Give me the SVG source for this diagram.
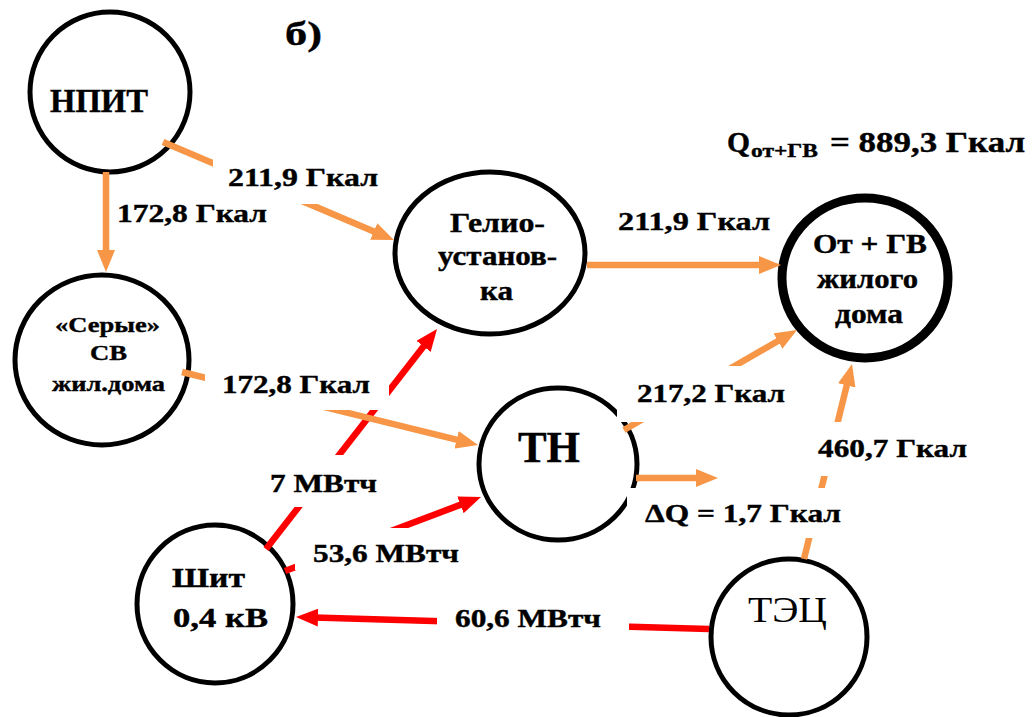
<svg xmlns="http://www.w3.org/2000/svg" width="1032" height="717" viewBox="0 0 1032 717">
<style>
.node{fill:#fff;stroke:#000;stroke-width:5}
.thick{stroke-width:9}
.t{font-family:"Liberation Serif","Times New Roman",serif;font-weight:bold;fill:#000;stroke:#000;stroke-width:0.4px}
.lbl{font-family:"Liberation Serif","Times New Roman",serif;font-weight:bold;font-size:26px;fill:#000;stroke:#000;stroke-width:0.4px}
.reg{font-family:"Liberation Serif","Times New Roman",serif;font-weight:normal;fill:#000}
.or{stroke:#F79646;stroke-width:6.5;fill:none}
.rd{stroke:#FF0000;stroke-width:6.5;fill:none}
.box{fill:#fff;stroke:none}
</style>
<defs>
<marker id="ao" markerUnits="userSpaceOnUse" viewBox="0 0 22 18" markerWidth="22" markerHeight="18" refX="4" refY="9" orient="auto"><path d="M0,0 L22,9 L0,18 z" fill="#F79646"/></marker>
<marker id="ar" markerUnits="userSpaceOnUse" viewBox="0 0 22 18" markerWidth="22" markerHeight="18" refX="4" refY="9" orient="auto"><path d="M0,0 L22,9 L0,18 z" fill="#FF0000"/></marker>
</defs>
<rect width="1032" height="717" fill="#fff"/>
<text class="t" x="285" y="45" font-size="34" textLength="37" lengthAdjust="spacingAndGlyphs">б)</text>
<g id="q-total">
<text class="t" x="727" y="152" font-size="29" textLength="23" lengthAdjust="spacingAndGlyphs">Q</text>
<text class="t" x="751" y="157" font-size="19" textLength="67" lengthAdjust="spacingAndGlyphs">от+ГВ</text>
<text class="t" x="830" y="152" font-size="29" textLength="195" lengthAdjust="spacingAndGlyphs">= 889,3 Гкал</text>
</g>
<g id="npit"><ellipse class="node" cx="110" cy="92" rx="80" ry="80"/><text class="t" x="50" y="112" font-size="34" textLength="98" lengthAdjust="spacingAndGlyphs">НПИТ</text></g>
<g id="serye"><ellipse class="node" cx="102" cy="360" rx="87" ry="85"/>
<text class="t" x="55" y="332" font-size="22" textLength="105" lengthAdjust="spacingAndGlyphs">«Серые»</text>
<text class="t" x="90" y="360" font-size="22" textLength="37" lengthAdjust="spacingAndGlyphs">СВ</text>
<text class="t" x="52" y="391" font-size="22" textLength="113" lengthAdjust="spacingAndGlyphs">жил.дома</text></g>
<g id="gelio"><ellipse class="node" cx="490" cy="253" rx="95" ry="81"/>
<text class="t" x="450" y="232" font-size="27" textLength="95" lengthAdjust="spacingAndGlyphs">Гелио-</text>
<text class="t" x="438" y="265" font-size="27" textLength="119" lengthAdjust="spacingAndGlyphs">установ-</text>
<text class="t" x="480" y="300" font-size="27" textLength="33" lengthAdjust="spacingAndGlyphs">ка</text></g>
<g id="ot-gv"><ellipse class="node thick" cx="865" cy="278" rx="83" ry="80"/>
<text class="t" x="813" y="253" font-size="27" textLength="114" lengthAdjust="spacingAndGlyphs">От + ГВ</text>
<text class="t" x="817" y="288" font-size="27" textLength="101" lengthAdjust="spacingAndGlyphs">жилого</text>
<text class="t" x="835" y="323" font-size="27" textLength="68" lengthAdjust="spacingAndGlyphs">дома</text></g>
<g id="tn"><ellipse class="node" cx="558" cy="464" rx="79" ry="76"/>
<text class="t" x="518" y="462" font-size="44" textLength="62" lengthAdjust="spacingAndGlyphs">ТН</text></g>
<g id="shit"><ellipse class="node" cx="215" cy="604" rx="78" ry="79"/>
<text class="t" x="172" y="587" font-size="28" textLength="73" lengthAdjust="spacingAndGlyphs">Шит</text>
<text class="t" x="173" y="627" font-size="28" textLength="95" lengthAdjust="spacingAndGlyphs">0,4 кВ</text></g>
<g id="tec"><ellipse class="node" cx="789" cy="637" rx="78" ry="78"/>
<text class="reg" x="748" y="622" font-size="35" textLength="79" lengthAdjust="spacingAndGlyphs">ТЭЦ</text></g>
<g id="connectors">
<line class="rd" x1="266" y1="549" x2="426" y2="343.2" marker-end="url(#ar)"/>
<line class="rd" x1="285" y1="571" x2="464.2" y2="503.4" marker-end="url(#ar)"/>
<line class="rd" x1="709" y1="629" x2="314" y2="617.5" marker-end="url(#ar)"/>
<line class="or" x1="163" y1="142" x2="377.4" y2="233" marker-end="url(#ao)"/>
<line class="or" x1="106" y1="172" x2="106" y2="254" marker-end="url(#ao)"/>
<line class="or" x1="182" y1="372" x2="460.5" y2="440.7" marker-end="url(#ao)"/>
<line class="or" x1="587" y1="265" x2="763" y2="265" marker-end="url(#ao)"/>
<line class="or" x1="624" y1="430" x2="781.4" y2="339" marker-end="url(#ao)"/>
<line class="or" x1="636" y1="478" x2="700" y2="478" marker-end="url(#ao)"/>
<line class="or" x1="804" y1="559" x2="847.7" y2="381.5" marker-end="url(#ao)"/>
<rect class="box" x="213" y="158" width="172" height="46"/>
<rect class="box" x="205" y="362" width="184" height="48"/>
<rect class="box" x="617" y="366" width="173" height="56"/>
<rect class="box" x="812" y="422" width="160" height="54"/>
<rect class="box" x="627" y="488" width="220" height="50"/>
<rect class="box" x="262" y="455" width="123" height="52"/>
<rect class="box" x="295" y="528" width="172" height="42"/>
<rect class="box" x="437" y="605" width="192" height="35"/>
<text class="lbl" x="228" y="186" textLength="150" lengthAdjust="spacingAndGlyphs">211,9 Гкал</text>
<text class="lbl" x="117" y="222" textLength="150" lengthAdjust="spacingAndGlyphs">172,8 Гкал</text>
<text class="lbl" x="222" y="393" textLength="148" lengthAdjust="spacingAndGlyphs">172,8 Гкал</text>
<text class="lbl" x="618" y="230" textLength="152" lengthAdjust="spacingAndGlyphs">211,9 Гкал</text>
<text class="lbl" x="637" y="402" textLength="148" lengthAdjust="spacingAndGlyphs">217,2 Гкал</text>
<text class="lbl" x="818" y="457" textLength="149" lengthAdjust="spacingAndGlyphs">460,7 Гкал</text>
<text class="lbl" x="645" y="522" textLength="196" lengthAdjust="spacingAndGlyphs">ΔQ = 1,7 Гкал</text>
<text class="lbl" x="270" y="492" textLength="107" lengthAdjust="spacingAndGlyphs">7 МВтч</text>
<text class="lbl" x="313" y="562" textLength="146" lengthAdjust="spacingAndGlyphs">53,6 МВтч</text>
<text class="lbl" x="455" y="627" textLength="146" lengthAdjust="spacingAndGlyphs">60,6 МВтч</text>
</g>
</svg>
